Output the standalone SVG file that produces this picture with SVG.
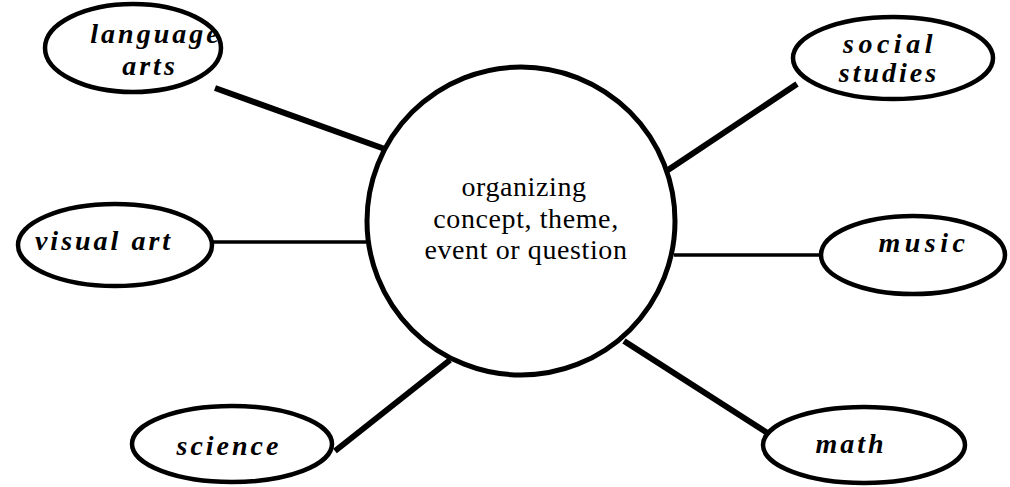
<svg xmlns="http://www.w3.org/2000/svg" width="1010" height="487" viewBox="0 0 1010 487">
  <style>
    .bg { fill: #ffffff; }
    .node { fill: #ffffff; stroke: #000000; stroke-width: 4.5; }
    .hub { fill: #ffffff; stroke: #000000; stroke-width: 5; }
    .link { stroke: #000000; stroke-linecap: butt; fill: none; }
    .thick { stroke-width: 6; }
    .thin { stroke-width: 3.5; }
    .label { font-family: "Liberation Serif", "Times New Roman", serif; font-style: italic; font-weight: bold; font-size: 28px; letter-spacing: 3px; fill: #000000; text-anchor: middle; }
    .wide { letter-spacing: 4.5px; }
    .hubtext { font-family: "Liberation Serif", "Times New Roman", serif; font-size: 28px; letter-spacing: 0.6px; fill: #000000; text-anchor: middle; }
  </style>
  <rect class="bg" x="0" y="0" width="1010" height="487"/>

  <!-- spokes -->
  <g id="connectors">
    <line class="link thick" x1="215" y1="88" x2="396" y2="153"/>
    <line class="link thick" x1="797" y1="84" x2="665" y2="172"/>
    <line class="link thin" x1="212" y1="242" x2="372" y2="242"/>
    <line class="link thin" x1="674" y1="255" x2="822" y2="255"/>
    <line class="link thick" x1="335" y1="451" x2="450" y2="360"/>
    <line class="link thick" x1="624" y1="341" x2="780" y2="441"/>
  </g>

  <g id="center">
    <circle class="hub" cx="521" cy="221" r="154"/>
    <text class="hubtext" x="524" y="196">organizing</text>
    <text class="hubtext" x="526" y="227.5">concept, theme,</text>
    <text class="hubtext" x="526" y="259">event or question</text>
  </g>

  <g id="language-arts">
    <ellipse class="node" cx="133" cy="48" rx="88" ry="44"/>
    <text class="label" x="156" y="43">language</text>
    <text class="label" x="150" y="75">arts</text>
  </g>

  <g id="social-studies">
    <ellipse class="node" cx="893" cy="58" rx="100" ry="41"/>
    <text class="label wide" x="890" y="53">social</text>
    <text class="label" x="889" y="82">studies</text>
  </g>

  <g id="visual-art">
    <ellipse class="node" cx="115" cy="245" rx="97" ry="41"/>
    <text class="label" x="104" y="250">visual  art</text>
  </g>

  <g id="music">
    <ellipse class="node" cx="913" cy="255" rx="92" ry="39"/>
    <text class="label wide" x="924" y="252">music</text>
  </g>

  <g id="science">
    <ellipse class="node" cx="232" cy="444" rx="100" ry="38"/>
    <text class="label" x="229" y="455">science</text>
  </g>

  <g id="math">
    <ellipse class="node" cx="864" cy="445" rx="101" ry="38"/>
    <text class="label" x="851" y="453">math</text>
  </g>
</svg>
